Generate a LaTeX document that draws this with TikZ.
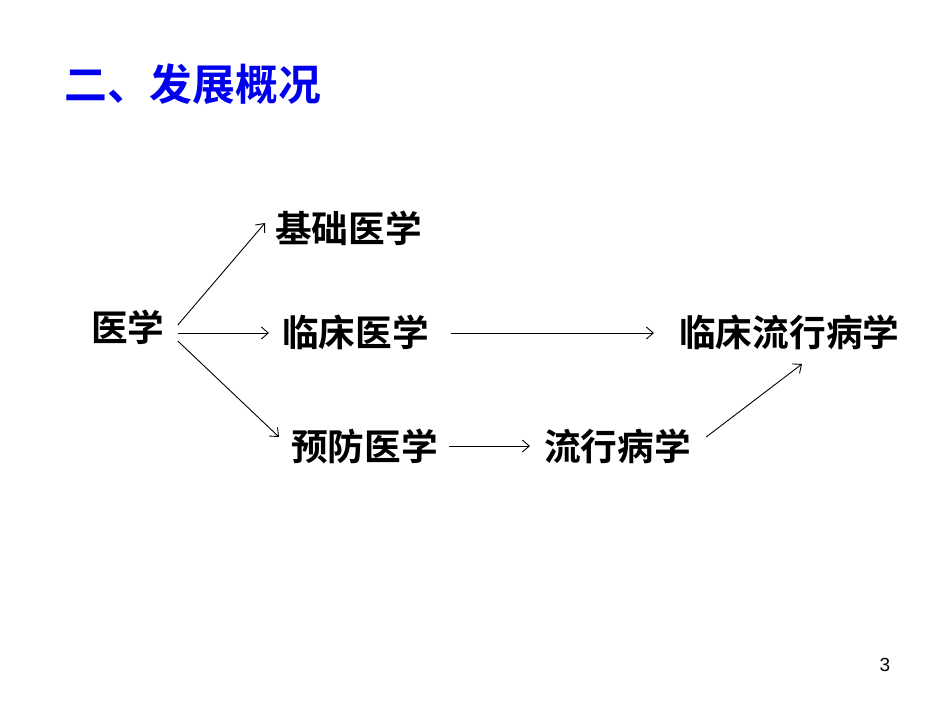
\documentclass[tikz,border=0pt]{standalone}
\usepackage{fontspec}
\setmainfont{Liberation Sans}
\newfontfamily\cjk{Noto Sans CJK SC}[BoldFont={Noto Sans CJK SC Bold}]
\usetikzlibrary{arrows.meta}
\definecolor{titleblue}{RGB}{0,0,238}
\begin{document}
\begin{tikzpicture}[x=1pt,y=-1pt,
  lbl/.style={inner sep=0pt,font=\cjk\bfseries\fontsize{36.7}{40}\selectfont},
  arr/.style={draw=black,line width=0.9pt,-{Straight Barb[length=7pt,width=12pt,line width=0.9pt]}}]
\useasboundingbox (0,0) rectangle (950,713);
\node[anchor=west,inner sep=0pt,text=titleblue,font=\cjk\bfseries\fontsize{42.8}{46}\selectfont] (title) at (64,84) {二、发展概况};
\node[lbl,anchor=west] (yx) at (91,327) {医学};
\node[lbl,anchor=west] (jc) at (275,228) {基础医学};
\node[lbl,anchor=west] (lc) at (282,332) {临床医学};
\node[lbl,anchor=west] (yf) at (291,446) {预防医学};
\node[lbl,anchor=west] (lx) at (544,446) {流行病学};
\node[lbl,anchor=west] (lclx) at (679,332) {临床流行病学};
\node[inner sep=0pt,font=\fontsize{19}{22}\selectfont] (pg) at (885,665) {3};
\draw[arr] ([xshift=13pt,yshift=2pt]yx.east) -- ([xshift=-10pt,yshift=5pt]jc.west);
\draw[arr] ([xshift=13pt,yshift=-6pt]yx.east) -- ([xshift=-13pt,yshift=-1pt]lc.west);
\draw[arr] ([xshift=13pt,yshift=-14pt]yx.east) -- ([xshift=-12pt,yshift=9pt]yf.west);
\draw[arr] ([xshift=22pt,yshift=-1pt]lc.east) -- ([xshift=-25pt,yshift=-1pt]lclx.west);
\draw[arr] ([xshift=11pt]yf.east) -- ([xshift=-14pt]lx.west);
\draw[arr] ([xshift=15pt,yshift=9pt]lx.east) -- ([xshift=123pt,yshift=-32pt]lclx.west);
\end{tikzpicture}
\end{document}
